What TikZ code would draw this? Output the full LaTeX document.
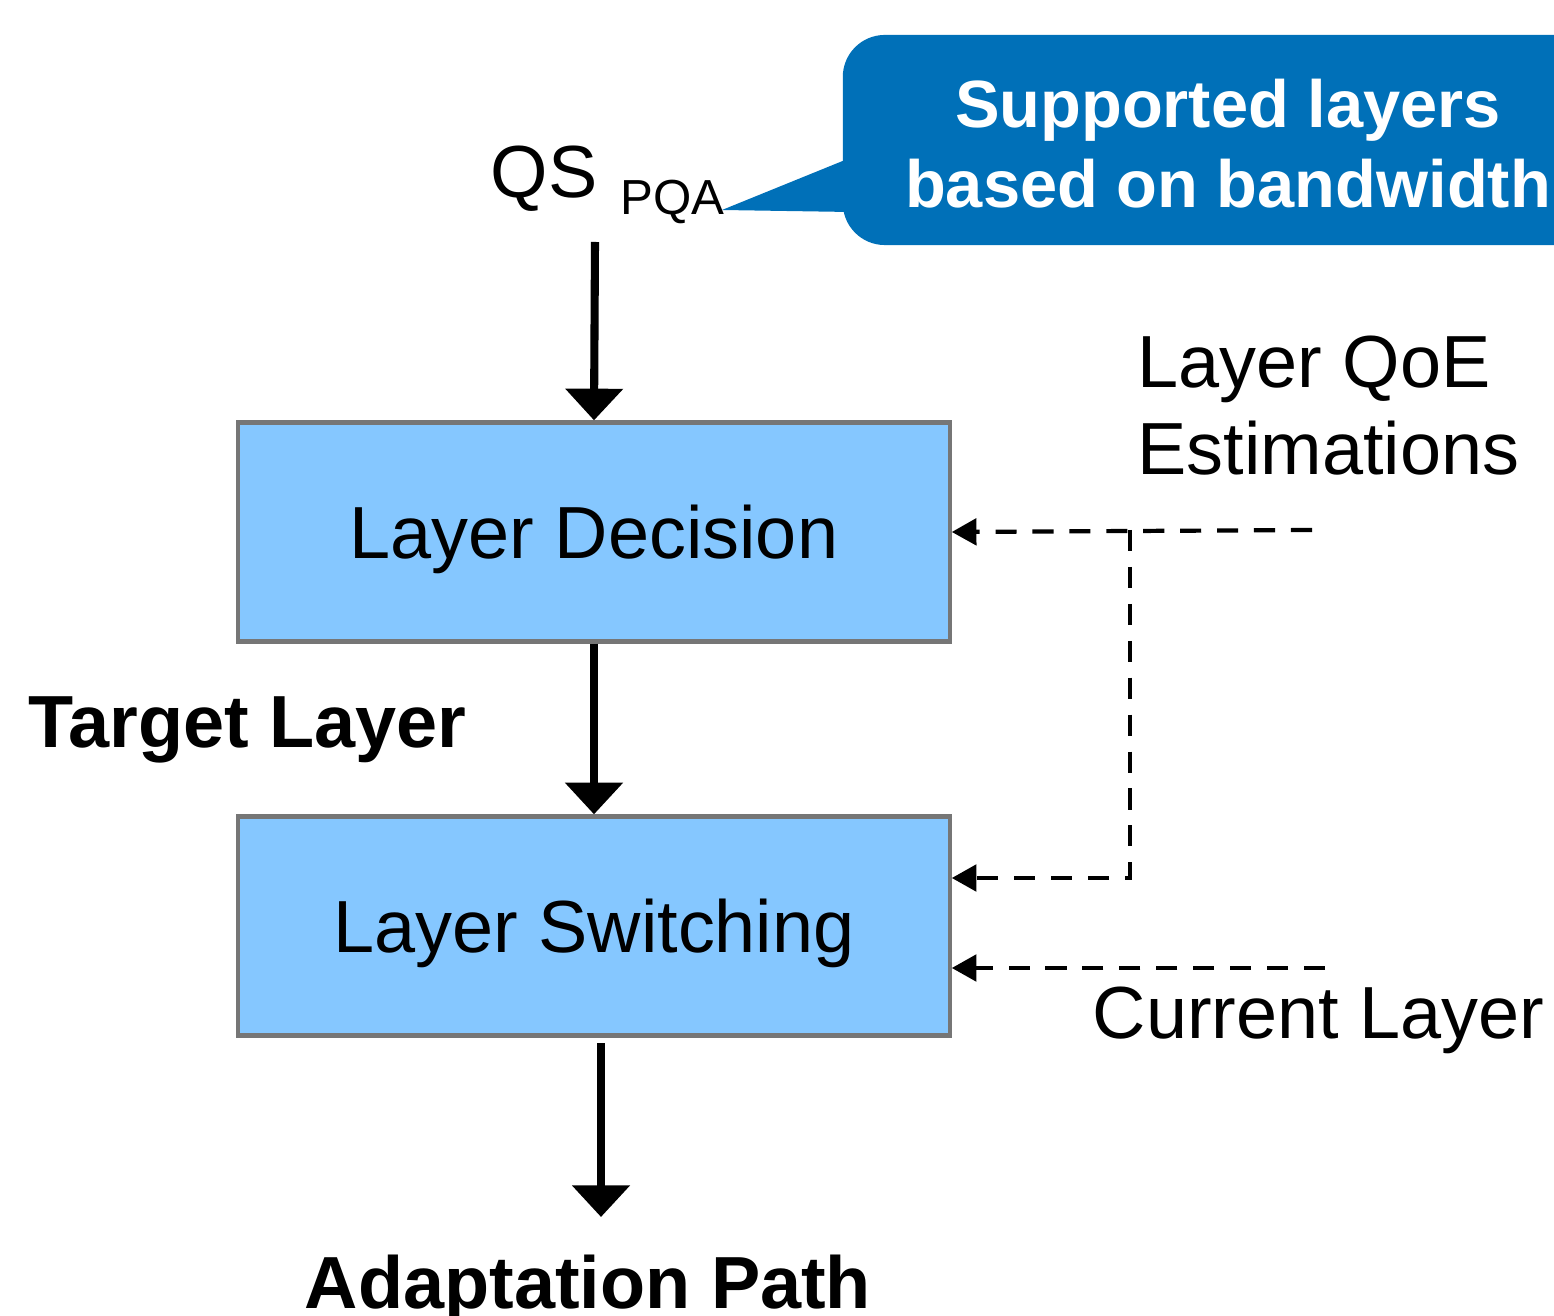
\documentclass[tikz,border=0pt]{standalone}
\usepackage{fontspec}
\setmainfont{Liberation Sans}
\usetikzlibrary{arrows.meta,calc}

\definecolor{boxblue}{RGB}{133,199,255}
\definecolor{boxgray}{RGB}{118,118,118}
\definecolor{calloutblue}{RGB}{0,112,184}

\tikzset{
  block/.style={draw=boxgray, line width=1.2pt, fill=boxblue, minimum width=7.11cm, minimum height=2.19cm, inner sep=0pt, text depth=0pt, font=\fontsize{21}{25}\selectfont},
  flow/.style={line width=2.3pt, -{Triangle[width=16pt,length=9pt]}},
  feedback/.style={line width=1.2pt, dash pattern=on 6pt off 4.5pt, -{Triangle[width=7.5pt,length=7pt]}},
  label/.style={font=\fontsize{21}{25}\selectfont, inner sep=0pt},
  boldlabel/.style={font=\fontsize{21}{25}\selectfont\bfseries, inner sep=0pt}
}

\begin{document}
\begin{tikzpicture}[x=0.01cm, y=-0.01cm]
	\useasboundingbox (0,0) rectangle (1554,1316);
	
	% Callout
	\fill[calloutblue] (850,158) -- (722,210) -- (850,212) -- cycle;
	\node[fill=calloutblue, rounded corners=0.42cm, minimum width=7.7cm, minimum height=2.1cm, inner sep=0pt] (callout) at (1228,140) {};
	\node[font=\fontsize{19}{23}\selectfont\bfseries, text=white, align=center, inner sep=0pt, anchor=base] (callouttext) at (1228,208) {Supported layers\\based on bandwidth};
	
	% Input label
	\node[label, anchor=base west] (qs) at (490,198) {QS};
	\node[font=\fontsize{14}{16}\selectfont, inner sep=0pt, anchor=base west] (pqa) at (620,215) {PQA};
	\coordinate (qsout) at (595,242);
	
	% Blocks
	\node[block] (dec) at (594,532) {Layer Decision};
	\node[block] (sw) at (594,926) {Layer Switching};
	
	% Main flow
	\draw[flow] (qsout) -- (dec.north);
	\draw[flow] (dec.south) -- (sw.north);
	\coordinate (swout) at (601,1043);
	\coordinate (pathin) at (601,1217);
	\draw[flow] (swout) -- (pathin);
	
	% Side labels
	\node[label, anchor=base west, align=left] (qoe) at (1137,475) {Layer QoE\\Estimations};
	\node[label, anchor=base west] (current) at (1092,1038) {Current Layer};
	\node[boldlabel, anchor=base west] (target) at (28,748) {Target Layer};
	\node[boldlabel, anchor=base] (adapt) at (588,1308) {Adaptation Path};
	
	% Feedback inputs
	\coordinate (qoein) at (1312,530);
	\coordinate (branch) at (1130,530);
	\coordinate (branchlow) at (1130,878);
	\coordinate (curin) at (1325,968);
	\draw[feedback] (qoein) -- (dec.east);
	\draw[feedback] (branch) -- (branchlow) -- (sw.east |- branchlow);
	\draw[feedback] (curin) -- (sw.east |- curin);
	
\end{tikzpicture}
\end{document}
